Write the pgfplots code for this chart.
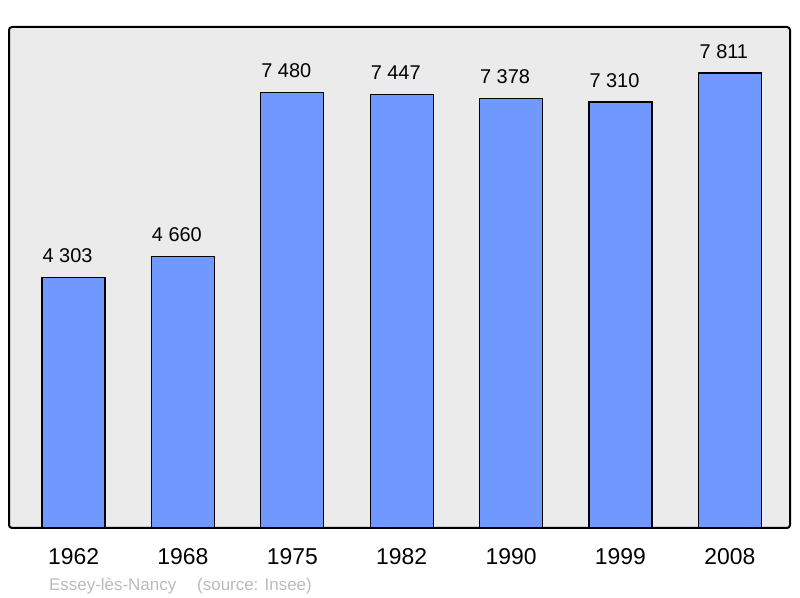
\documentclass[border=0pt]{standalone}
\usepackage{fontspec}
\setmainfont{Liberation Sans}
\usepackage{pgfplots}
\pgfplotsset{compat=1.18}
\definecolor{barblue}{HTML}{7099FF}
\definecolor{bggray}{HTML}{EBEBEB}
\definecolor{footgray}{HTML}{BBBBBB}
\begin{document}
\begin{tikzpicture}
    \begin{axis}[
        width=781bp, height=501bp,
        scale only axis,
        xmin=-0.59, xmax=6.55,
        ymin=0, ymax=8600,
        xtick=data,
        xticklabels={1962,1968,1975,1982,1990,1999,2008},
        ytick=\empty,
        major tick length=0pt,
        axis line style={draw=none},
        axis background/.style={fill=bggray, draw=black, line width=2bp, rounded corners=3bp},
        xticklabel style={font=\fontsize{23}{27}\selectfont, inner sep=0pt, yshift=-20bp},
        /pgf/number format/assume math mode=true,
        /pgf/number format/1000 sep={\ },
        nodes near coords,
        every node near coord/.append style={font=\fontsize{20}{24}\selectfont, inner sep=0pt, anchor=south, yshift=14bp, xshift=-6bp},
        clip=false,
    ]
        \addplot[ybar, bar width=63bp, fill=barblue, draw=black, line width=1.3bp]
            coordinates {(0,4303) (1,4660) (2,7480) (3,7447) (4,7378) (5,7310) (6,7811)};
        \coordinate (sw) at (rel axis cs:0,0);
        \coordinate (ne) at (rel axis cs:1,1);
        \node[anchor=base west, text=footgray, font=\fontsize{17}{20}\selectfont, inner sep=0pt]
            at ([xshift=40bp, yshift=-63bp]rel axis cs:0,0) {Essey-lès-Nancy\hspace{21bp}(source: Insee)};
    \end{axis}
    \useasboundingbox ([shift={(-9bp,-70bp)}]sw) rectangle ([shift={(10bp,27bp)}]ne);
\end{tikzpicture}
\end{document}
